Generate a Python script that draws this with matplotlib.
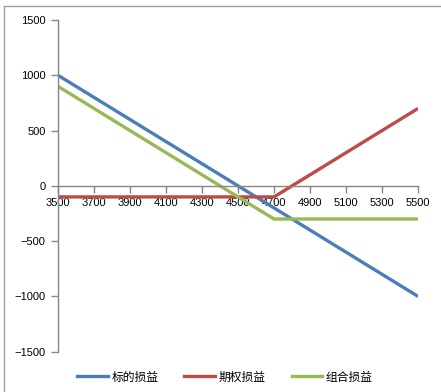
import matplotlib.pyplot as plt
from matplotlib.lines import Line2D

plt.rcParams['font.family'] = ['Noto Sans CJK SC', 'DejaVu Sans']

# data
price = [3500, 3700, 3900, 4100, 4300, 4500, 4700, 4900, 5100, 5300, 5500]
underlying_pnl = [1000, 800, 600, 400, 200, 0, -200, -400, -600, -800, -1000]
option_pnl = [-100, -100, -100, -100, -100, -100, -100, 100, 300, 500, 700]
combo_pnl = [900, 700, 500, 300, 100, -100, -300, -300, -300, -300, -300]
labels = ['标的损益', '期权损益', '组合损益']
colors = ['#4A7EBB', '#BE4B48', '#98B954']

fig = plt.figure(figsize=(4.41, 3.92), dpi=100)
ax = fig.add_axes([0.1315, 0.1028, 0.8165, 0.8462])

for ys, lab, c in zip([underlying_pnl, option_pnl, combo_pnl], labels, colors):
    ax.plot(price, ys, color=c, lw=2.4, label=lab, solid_capstyle='butt')

ax.set_xlim(3500, 5500)
ax.set_ylim(-1500, 1500)
ax.set_xticks(price)
ax.set_yticks([-1500, -1000, -500, 0, 500, 1000, 1500])

ax.spines['top'].set_visible(False)
ax.spines['right'].set_visible(False)
ax.spines['bottom'].set_position(('data', 0))
for s in ['left', 'bottom']:
    ax.spines[s].set_color('#868686')
    ax.spines[s].set_linewidth(1.0)
ax.tick_params(axis='both', colors='#868686', labelcolor='black', labelsize=8,
               length=5, width=1, direction='out')
ax.tick_params(axis='x', pad=3.5)
ax.tick_params(axis='y', pad=4)
for t in ax.get_xticklabels() + ax.get_yticklabels():
    t.set_family(['Liberation Sans', 'DejaVu Sans'])

handles = [Line2D([0], [0], color=c, lw=2.4) for c in colors]
fig.legend(handles, labels, loc='center', bbox_to_anchor=(0.51, 0.038), ncol=3,
           frameon=False, fontsize=8.5, handlelength=2.6, columnspacing=2.2,
           handletextpad=0.3)

# outer chart frame (screenshot border)
fig.add_artist(Line2D([4 / 441, 4 / 441], [0, 1 - 6 / 392], color='#A0A0A0', lw=1,
                      transform=fig.transFigure))
fig.add_artist(Line2D([4 / 441, 1], [1 - 6 / 392, 1 - 6 / 392], color='#A0A0A0', lw=1,
                      transform=fig.transFigure))

fig.savefig('out.png', dpi=100)
